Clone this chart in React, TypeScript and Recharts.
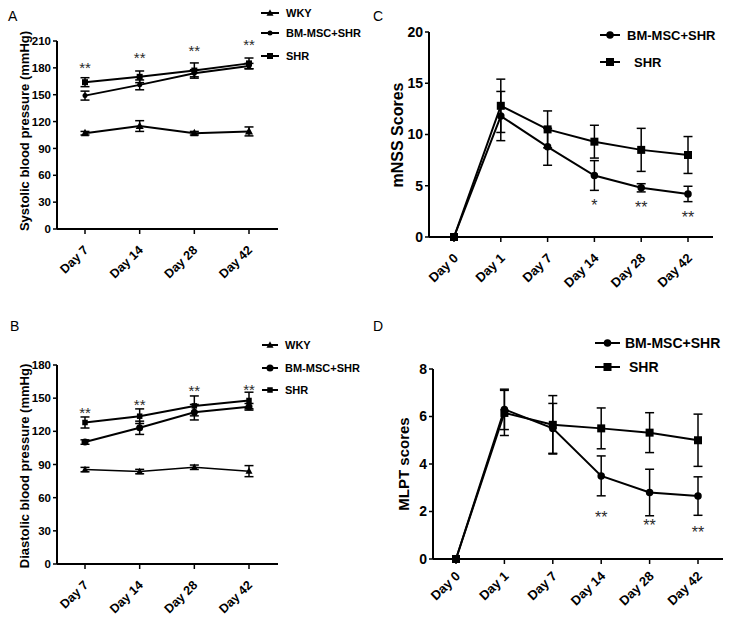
import React from "react";
import { LineChart, Line, XAxis, YAxis, ErrorBar, LabelList } from "recharts";

const FONT = "'Liberation Sans', Arial, Helvetica, sans-serif";

// panels A and B: blood pressure
const bpDays = ["Day 7", "Day 14", "Day 28", "Day 42"];

const sbpWky = [107, 115, 107, 109];
const sbpWkyErr = [2, 6, 2, 5];
const sbpMsc = [149, 161, 174, 182];
const sbpMscErr = [5, 5.5, 4, 3];
const sbpShr = [164, 170, 177, 185];
const sbpShrErr = [5, 6.5, 8.5, 6];
const sbpStars = [184, 195, 203, 210];

const dbpWky = [85.4, 83.6, 87.5, 84];
const dbpWkyErr = [2, 2, 2, 5];
const dbpMsc = [110.3, 123.2, 137.3, 142.2];
const dbpMscErr = [2, 6, 7, 3];
const dbpShr = [128, 133.7, 143, 147.9];
const dbpShrErr = [5, 6.6, 9, 7.5];
const dbpStars = [140, 147, 159.5, 161];

const bpStarText = ["**", "**", "**", "**"];

// panels C and D: neurological scores
const scoreDays = ["Day 0", "Day 1", "Day 7", "Day 14", "Day 28", "Day 42"];

const mnssMsc = [0, 11.8, 8.8, 6.0, 4.8, 4.2];
const mnssMscErr = [0, 2.4, 1.8, 1.45, 0.4, 0.75];
const mnssShr = [0, 12.8, 10.5, 9.3, 8.5, 8.0];
const mnssShrErr = [0, 2.6, 1.8, 1.6, 2.1, 1.8];
const mnssStars = [null, null, null, 3.4, 3.2, 2.3];
const mnssStarText = ["", "", "", "*", "**", "**"];

const mlptMsc = [0, 6.3, 5.5, 3.5, 2.8, 2.65];
const mlptMscErr = [0, 0.85, 1.05, 0.84, 0.98, 0.81];
const mlptShr = [0, 6.15, 5.65, 5.5, 5.32, 5.0];
const mlptShrErr = [0, 0.95, 1.23, 0.86, 0.84, 1.1];
const mlptStars = [null, null, null, 1.92, 1.57, 1.29];
const mlptStarText = ["", "", "", "**", "**", "**"];

const sbpTicks = [0, 30, 60, 90, 120, 150, 180, 210];
const dbpTicks = [0, 30, 60, 90, 120, 150, 180];
const mnssTicks = [0, 5, 10, 15, 20];
const mlptTicks = [0, 2, 4, 6, 8];

const WKY = "WKY";
const MSC = "BM-MSC+SHR";
const SHR = "SHR";

function rows(cats: string[], cols: Record<string, any[]>) {
  return cats.map((day, i) => {
    const r: any = { day };
    Object.keys(cols).forEach((k) => (r[k] = cols[k][i]));
    return r;
  });
}

const sbpData = rows(bpDays, {
  wky: sbpWky, wkyErr: sbpWkyErr, msc: sbpMsc, mscErr: sbpMscErr,
  shr: sbpShr, shrErr: sbpShrErr, star: sbpStars, starText: bpStarText,
});
const dbpData = rows(bpDays, {
  wky: dbpWky, wkyErr: dbpWkyErr, msc: dbpMsc, mscErr: dbpMscErr,
  shr: dbpShr, shrErr: dbpShrErr, star: dbpStars, starText: bpStarText,
});
const mnssData = rows(scoreDays, {
  msc: mnssMsc, mscErr: mnssMscErr, shr: mnssShr, shrErr: mnssShrErr,
  star: mnssStars, starText: mnssStarText,
});
const mlptData = rows(scoreDays, {
  msc: mlptMsc, mscErr: mlptMscErr, shr: mlptShr, shrErr: mlptShrErr,
  star: mlptStars, starText: mlptStarText,
});

type Kind = "triangle" | "circle" | "square";

function shapeAt(kind: Kind, cx: number, cy: number, size: number, key?: any) {
  const s = size / 2;
  if (kind === "circle") return <circle key={key} cx={cx} cy={cy} r={s} fill="#000" />;
  if (kind === "square")
    return <rect key={key} x={cx - s} y={cy - s} width={size} height={size} fill="#000" />;
  return (
    <path
      key={key}
      d={`M${cx},${cy - s * 1.1}L${cx + s},${cy + s * 0.75}L${cx - s},${cy + s * 0.75}Z`}
      fill="#000"
    />
  );
}

const marker = (kind: Kind, size: number) => (p: any) => {
  if (p.cx == null || p.cy == null) return <g key={p.index} />;
  return shapeAt(kind, p.cx, p.cy, size, p.index);
};

const starLabel = (size: number) => (p: any) => {
  const { x, y, value, index } = p;
  if (!value || x == null || y == null) return null;
  return (
    <text key={index} x={x} y={y + size * 0.58} textAnchor="middle" fontSize={size}
      fill="#2a2a2a" fontFamily={FONT}>
      {value}
    </text>
  );
};

const dayTick = (size: number, dx: number, dy: number) => (p: any) => {
  const ax = p.x + dx;
  const ay = p.y + dy;
  return (
    <text x={ax} y={ay} transform={`rotate(-44 ${ax} ${ay})`} textAnchor="end"
      fontSize={size} fontWeight="bold" fontFamily={FONT} fill="#000">
      {p.payload.value}
    </text>
  );
};

function Legend({ items, x, textX, ys, size }: {
  items: { label: string; kind: Kind; mark: number }[];
  x: [number, number]; textX: number[]; ys: number[]; size: number;
}) {
  return (
    <>
      {items.map((it, i) => (
        <React.Fragment key={it.label}>
          <svg style={{ position: "absolute", left: x[0], top: ys[i] - 6 }}
            width={x[1] - x[0]} height={12}>
            <line x1={0} y1={6} x2={x[1] - x[0]} y2={6} stroke="#000" strokeWidth={2} />
            {shapeAt(it.kind, (x[1] - x[0]) / 2, 6, it.mark)}
          </svg>
          <div style={{
            position: "absolute", left: textX[i], top: ys[i], transform: "translateY(-50%)",
            fontFamily: FONT, fontWeight: "bold", fontSize: size, whiteSpace: "nowrap", lineHeight: 1,
          }}>
            {it.label}
          </div>
        </React.Fragment>
      ))}
    </>
  );
}

function Title({ text, cx, cy, size }: { text: string; cx: number; cy: number; size: number }) {
  return (
    <div style={{
      position: "absolute", left: cx, top: cy, transform: "translate(-50%, -50%) rotate(-90deg)",
      fontFamily: FONT, fontWeight: "bold", fontSize: size, whiteSpace: "nowrap", lineHeight: 1,
    }}>
      {text}
    </div>
  );
}

function Letter({ text, x, y }: { text: string; x: number; y: number }) {
  return (
    <div style={{ position: "absolute", left: x, top: y, fontFamily: FONT, fontSize: 14, lineHeight: 1 }}>
      {text}
    </div>
  );
}

const axisLine = { stroke: "#000", strokeWidth: 2 };
const tickLine = { stroke: "#000", strokeWidth: 1.5 };
const errProps = { stroke: "#000", strokeWidth: 1.5, width: 4.5, direction: "y" as const };

function Panel(props: {
  left: number; top: number; w: number; h: number;
  margin: { top: number; right: number };
  yWidth: number; xHeight: number;
  data: any[]; domain: [number, number]; ticks: number[];
  pad: { left: number; right: number };
  yFont: number; xFont: number; tickDx: number; tickDy: number; starFont: number;
  series: { key: string; err: string; kind: Kind; mark: number; width: number }[];
}) {
  return (
    <div style={{ position: "absolute", left: props.left, top: props.top, width: props.w, height: props.h }}>
      <LineChart width={props.w} height={props.h} data={props.data}
        margin={{ top: props.margin.top, right: props.margin.right, bottom: 0, left: 0 }}>
        <XAxis dataKey="day" height={props.xHeight} padding={props.pad} interval={0}
          axisLine={axisLine} tickLine={tickLine} tickSize={5} tickMargin={2}
          tick={dayTick(props.xFont, props.tickDx, props.tickDy)} />
        <YAxis width={props.yWidth} domain={props.domain} ticks={props.ticks} interval={0}
          axisLine={axisLine} tickLine={tickLine} tickSize={4} tickMargin={2}
          tick={{ fill: "#000", fontSize: props.yFont, fontWeight: "bold", fontFamily: FONT }} />
        {props.series.map((s) => (
          <Line key={s.key} dataKey={s.key} stroke="#000" strokeWidth={s.width}
            dot={marker(s.kind, s.mark)} activeDot={false} isAnimationActive={false}>
            <ErrorBar dataKey={s.err} {...errProps} />
          </Line>
        ))}
        <Line dataKey="star" stroke="none" dot={false} activeDot={false} isAnimationActive={false}>
          <LabelList dataKey="starText" content={starLabel(props.starFont)} />
        </Line>
      </LineChart>
    </div>
  );
}

export default function App() {
  return (
    <div style={{ position: "absolute", left: 0, top: 0, width: 730, height: 624, background: "#fff", overflow: "hidden" }}>
      <Panel left={0} top={0} w={365} h={310} margin={{ top: 41, right: 87 }}
        yWidth={57} xHeight={81} data={sbpData} domain={[0, 210]} ticks={sbpTicks}
        pad={{ left: 28, right: 29 }} yFont={11.5} xFont={12.5} tickDx={4} tickDy={15} starFont={15}
        series={[
          { key: "wky", err: "wkyErr", kind: "triangle", mark: 8, width: 2 },
          { key: "msc", err: "mscErr", kind: "circle", mark: 5, width: 2 },
          { key: "shr", err: "shrErr", kind: "square", mark: 6, width: 2 },
        ]} />
      <Panel left={0} top={310} w={365} h={314} margin={{ top: 55, right: 87 }}
        yWidth={57} xHeight={60} data={dbpData} domain={[0, 180]} ticks={dbpTicks}
        pad={{ left: 28, right: 29 }} yFont={11.5} xFont={12.5} tickDx={4} tickDy={15} starFont={15}
        series={[
          { key: "wky", err: "wkyErr", kind: "triangle", mark: 7, width: 1.5 },
          { key: "msc", err: "mscErr", kind: "circle", mark: 7, width: 2 },
          { key: "shr", err: "shrErr", kind: "square", mark: 5.5, width: 2 },
        ]} />
      <Panel left={365} top={0} w={365} h={310} margin={{ top: 32, right: 17 }}
        yWidth={64} xHeight={73} data={mnssData} domain={[0, 20]} ticks={mnssTicks}
        pad={{ left: 25, right: 25 }} yFont={14} xFont={13} tickDx={5} tickDy={15} starFont={16}
        series={[
          { key: "msc", err: "mscErr", kind: "circle", mark: 7.5, width: 2 },
          { key: "shr", err: "shrErr", kind: "square", mark: 8, width: 2 },
        ]} />
      <Panel left={365} top={310} w={365} h={314} margin={{ top: 59, right: 7 }}
        yWidth={68} xHeight={65} data={mlptData} domain={[0, 8]} ticks={mlptTicks}
        pad={{ left: 23, right: 25 }} yFont={14} xFont={13} tickDx={5} tickDy={11} starFont={16}
        series={[
          { key: "msc", err: "mscErr", kind: "circle", mark: 7.5, width: 2 },
          { key: "shr", err: "shrErr", kind: "square", mark: 8, width: 2 },
        ]} />

      <Letter text="A" x={8} y={9} />
      <Letter text="B" x={10} y={319} />
      <Letter text="C" x={373} y={9} />
      <Letter text="D" x={373} y={319} />

      <Title text="Systolic blood pressure (mmHg)" cx={24} cy={131} size={13} />
      <Title text="Diastolic blood pressure (mmHg)" cx={24} cy={466} size={13} />
      <Title text="mNSS Scores" cx={398} cy={135} size={16} />
      <Title text="MLPT scores" cx={403} cy={464} size={15} />

      <Legend x={[261, 279]} textX={[286, 286, 286]} ys={[13, 33, 56]} size={11}
        items={[
          { label: WKY, kind: "triangle", mark: 7 },
          { label: MSC, kind: "circle", mark: 5 },
          { label: SHR, kind: "square", mark: 6 },
        ]} />
      <Legend x={[262, 278]} textX={[285, 285, 285]} ys={[345, 368, 390]} size={11}
        items={[
          { label: WKY, kind: "triangle", mark: 7 },
          { label: MSC, kind: "circle", mark: 7 },
          { label: SHR, kind: "square", mark: 5.5 },
        ]} />
      <Legend x={[600, 620]} textX={[627, 634]} ys={[35, 62]} size={13}
        items={[
          { label: MSC, kind: "circle", mark: 7.5 },
          { label: SHR, kind: "square", mark: 8 },
        ]} />
      <Legend x={[595, 620]} textX={[625, 629]} ys={[343, 367]} size={14}
        items={[
          { label: MSC, kind: "circle", mark: 7.5 },
          { label: SHR, kind: "square", mark: 8 },
        ]} />
    </div>
  );
}
